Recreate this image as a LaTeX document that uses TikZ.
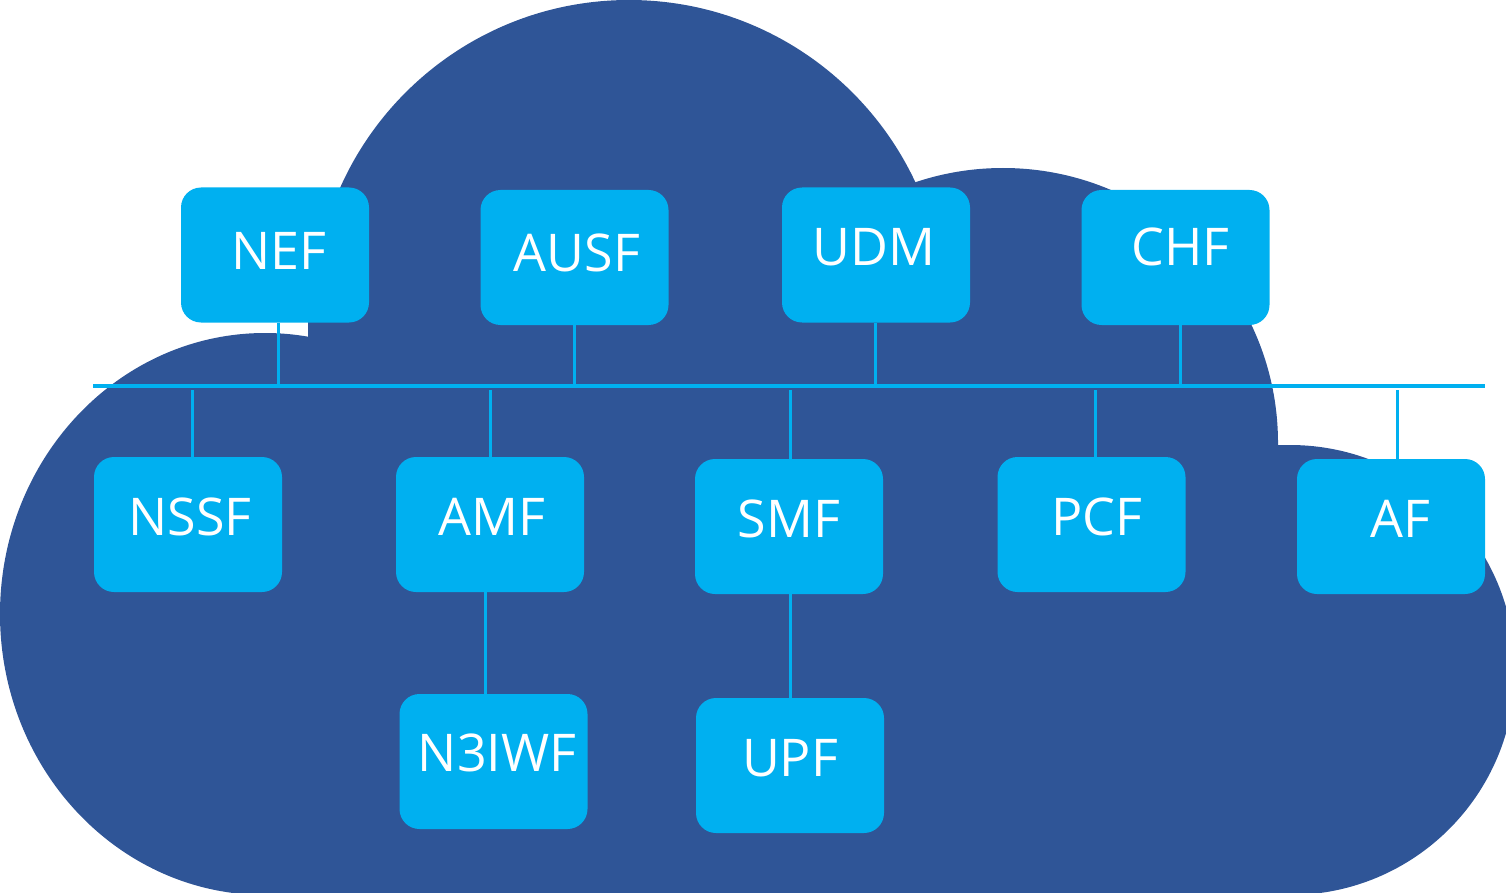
\documentclass[tikz,border=0pt]{standalone}
\usepackage{fontspec}
\setmainfont{Open Sans}
\definecolor{cloudblue}{RGB}{47,85,151}
\definecolor{nfblue}{RGB}{0,176,240}
\newcommand{\nfshift}[2]{\hspace*{#1pt}#2}
\tikzset{
  nfbox/.style={fill=nfblue, draw=none, rounded corners=20pt, minimum width=188pt,
    minimum height=135pt, inner sep=0pt, text=white, text height=37pt, text depth=16pt,
    font=\fontsize{52}{60}\selectfont},
  link/.style={draw=nfblue, line width=3pt},
  bus/.style={draw=nfblue, line width=4pt}
}
\begin{document}
\begin{tikzpicture}[x=1pt,y=-1pt]
\useasboundingbox (0,0) rectangle (1506,893);
% cloud
\begin{scope}
\clip (0,0) rectangle (1506,893);
\fill[cloudblue] (629,316) circle[radius=316];
\fill[cloudblue] (1003,443) circle[radius=275];
\fill[cloudblue] (1290,670) circle[radius=225];
\fill[cloudblue] (265,614) ellipse[x radius=265, y radius=281];
\fill[cloudblue] (308,320) rectangle (1000,893);
\fill[cloudblue] (265,600) rectangle (1300,893);
\fill[cloudblue] (1000,445) rectangle (1300,893);
\end{scope}
% bus
\coordinate (busL) at (93,386);
\coordinate (busR) at (1485,386);
\coordinate (busB) at (0,390);
\draw[bus] (busL) -- (busR);
% boxes
\node[nfbox, text depth=8pt]  (NEF)  at (275,255)    {\nfshift{7}{NEF}};
\node[nfbox, text depth=9pt]  (AUSF) at (574.5,257.5) {\nfshift{5}{AUSF}};
\node[nfbox, text depth=16pt] (UDM)  at (876,255)    {\nfshift{-4}{UDM}};
\node[nfbox, text depth=21pt] (CHF)  at (1175.5,257.5) {\nfshift{10}{CHF}};
\node[nfbox] (NSSF)  at (188,524.5)   {\nfshift{4}{NSSF}};
\node[nfbox] (AMF)   at (490,524.5)   {\nfshift{4}{AMF}};
\node[nfbox] (SMF)   at (789,526.5)   {SMF};
\node[nfbox] (PCF)   at (1091.5,524.5) {\nfshift{11}{PCF}};
\node[nfbox] (AF)    at (1391,526.5)  {\nfshift{18}{AF}};
\node[nfbox, text depth=18pt] (N3IWF) at (493.5,761.5) {\nfshift{7}{N3IWF}};
\node[nfbox] (UPF)   at (790,765.5)   {UPF};
% connectors to bus
\draw[link] ([xshift=3pt]NEF.south) -- ([xshift=3pt]NEF.south |- busL);
\draw[link] (AUSF.south) -- (AUSF.south |- busL);
\draw[link] ([xshift=-1pt]UDM.south) -- ([xshift=-1pt]UDM.south |- busL);
\draw[link] ([xshift=4.5pt]CHF.south) -- ([xshift=4.5pt]CHF.south |- busL);
\draw[link] ([xshift=4pt]NSSF.north) -- ([xshift=4pt]NSSF.north |- busB);
\draw[link] (AMF.north) -- (AMF.north |- busB);
\draw[link] ([xshift=1pt]SMF.north) -- ([xshift=1pt]SMF.north |- busB);
\draw[link] ([xshift=3.5pt]PCF.north) -- ([xshift=3.5pt]PCF.north |- busB);
\draw[link] ([xshift=6pt]AF.north) -- ([xshift=6pt]AF.north |- busB);
% vertical chains
\draw[link] ([xshift=-5pt]AMF.south) -- ([xshift=-8.5pt]N3IWF.north);
\draw[link] ([xshift=1pt]SMF.south) -- (UPF.north);
\end{tikzpicture}
\end{document}
